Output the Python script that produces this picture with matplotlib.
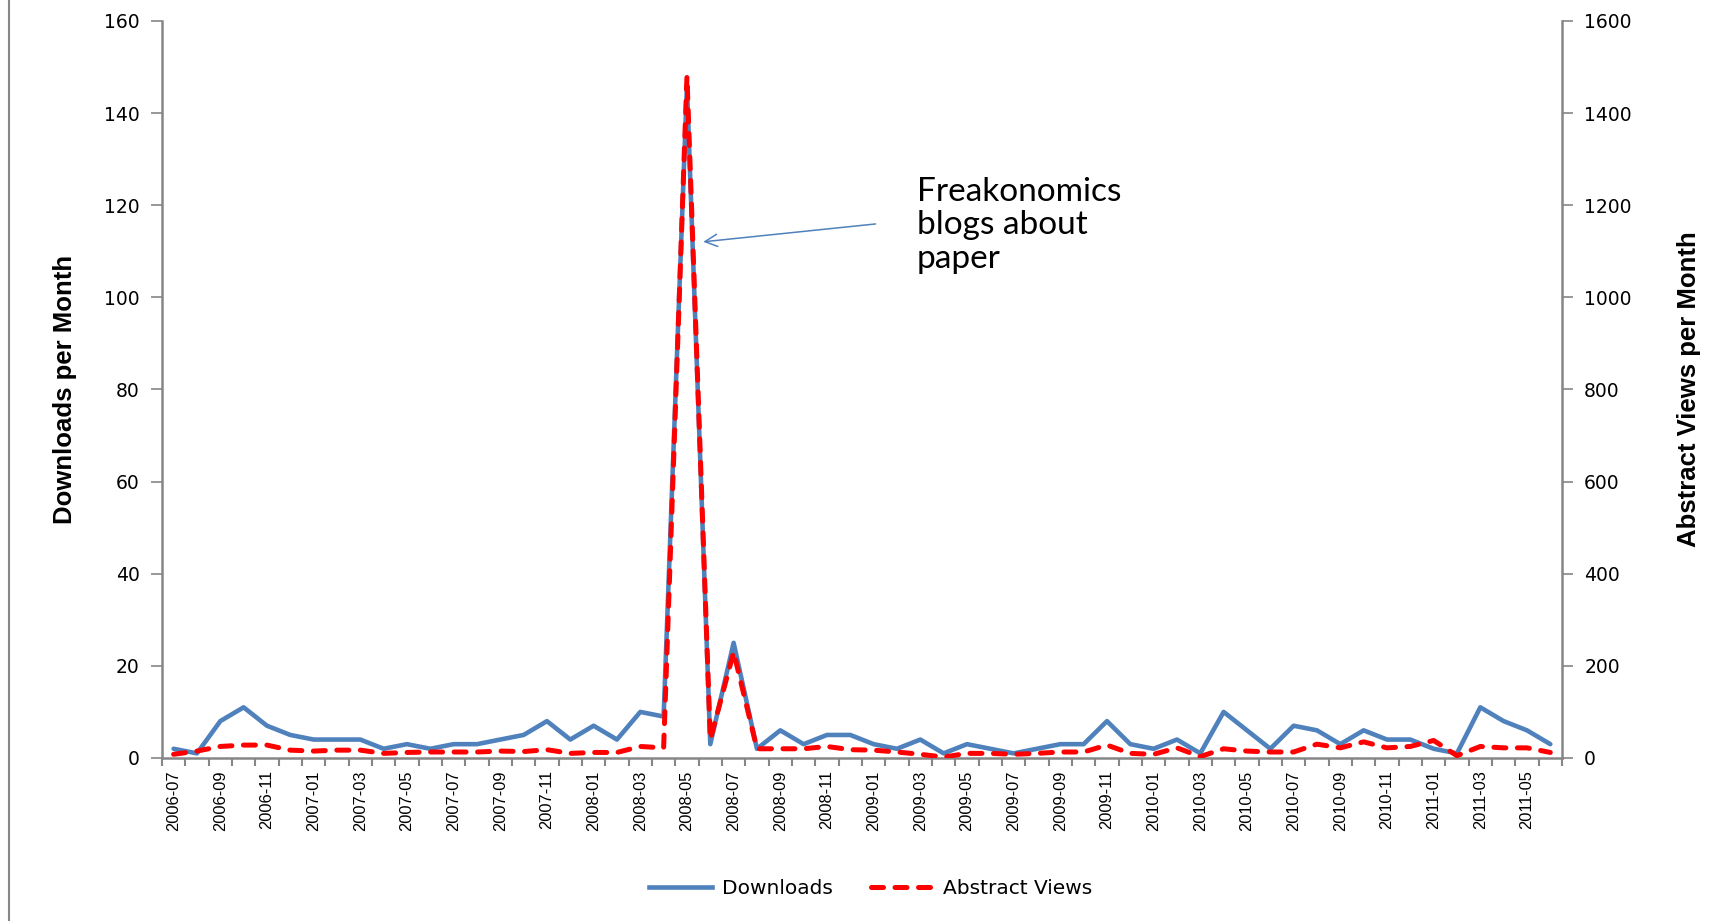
"""
Downloads and abstract views per month, with the Freakonomics spike
"""

import matplotlib.pyplot as plt
from matplotlib.lines import Line2D
import numpy as np

# Data
months = ['2006-07', '2006-08', '2006-09', '2006-10', '2006-11', '2006-12',
          '2007-01', '2007-02', '2007-03', '2007-04', '2007-05', '2007-06',
          '2007-07', '2007-08', '2007-09', '2007-10', '2007-11', '2007-12',
          '2008-01', '2008-02', '2008-03', '2008-04', '2008-05', '2008-06',
          '2008-07', '2008-08', '2008-09', '2008-10', '2008-11', '2008-12',
          '2009-01', '2009-02', '2009-03', '2009-04', '2009-05', '2009-06',
          '2009-07', '2009-08', '2009-09', '2009-10', '2009-11', '2009-12',
          '2010-01', '2010-02', '2010-03', '2010-04', '2010-05', '2010-06',
          '2010-07', '2010-08', '2010-09', '2010-10', '2010-11', '2010-12',
          '2011-01', '2011-02', '2011-03', '2011-04', '2011-05', '2011-06']

downloads = [2, 1, 8, 11, 7, 5, 4, 4, 4, 2, 3, 2,
             3, 3, 4, 5, 8, 4, 7, 4, 10, 9, 146, 3,
             25, 2, 6, 3, 5, 5, 3, 2, 4, 1, 3, 2,
             1, 2, 3, 3, 8, 3, 2, 4, 1, 10, 6, 2,
             7, 6, 3, 6, 4, 4, 2, 1, 11, 8, 6, 3]

abstract_views = [8, 15, 25, 28, 28, 17, 15, 17, 17, 10, 12, 13,
                  13, 13, 15, 14, 18, 10, 12, 12, 25, 22, 1480, 40,
                  230, 20, 20, 20, 25, 18, 17, 13, 8, 2, 10, 10,
                  8, 10, 13, 13, 28, 10, 8, 22, 3, 20, 15, 13,
                  13, 30, 22, 35, 22, 25, 38, 5, 25, 22, 22, 12]

left_ticks = [0, 20, 40, 60, 80, 100, 120, 140, 160]
right_ticks = [0, 200, 400, 600, 800, 1000, 1200, 1400, 1600]

note_text = 'Freakonomics\nblogs about\npaper'

BLUE = '#4F81BD'
RED = '#FF0000'
GRAY = '#868686'

fig = plt.figure(figsize=(17.21, 9.21), dpi=100)
ax = fig.add_axes([0.0941, 0.177, 0.8135, 0.8002])
ax2 = ax.twinx()

x = np.arange(len(months))

ax.plot(x, downloads, color=BLUE, linewidth=3.3, solid_joinstyle='round',
        solid_capstyle='round', zorder=2)
ax2.plot(x, abstract_views, color=RED, linewidth=3.6, dashes=(2.4, 2.3),
         dash_capstyle='round', dash_joinstyle='round', zorder=3)

ax.set_xlim(-0.5, len(months) - 0.5)
ax.set_ylim(0, 160)
ax2.set_ylim(0, 1600)

# category ticks: marks at boundaries, labels every second month
ax.set_xticks(x[::2])
ax.set_xticklabels(months[::2], rotation=90, fontsize=11.8,
                   family='Liberation Sans')
ax.set_xticks(np.arange(-0.5, len(months)), minor=True)
ax.tick_params(axis='x', which='major', length=0, pad=9)
ax.tick_params(axis='x', which='minor', length=6, width=1.5, color=GRAY)

ax.set_yticks(left_ticks)
ax.tick_params(axis='y', length=8, width=1.2, color=GRAY, labelsize=13.5,
               pad=8)
ax2.set_yticks(right_ticks)
ax2.tick_params(axis='y', length=8, width=1.2, color=GRAY, labelsize=13.5,
                pad=8)

for a in (ax, ax2):
    for side in ('top', 'right', 'left', 'bottom'):
        a.spines[side].set_visible(False)
ax.spines['left'].set_visible(True)
ax.spines['bottom'].set_visible(True)
ax2.spines['right'].set_visible(True)
for s in (ax.spines['left'], ax.spines['bottom'], ax2.spines['right']):
    s.set_color(GRAY)
    s.set_linewidth(1.8)

ax.set_ylabel('Downloads per Month', fontsize=18.5, fontweight='bold',
              family='Liberation Sans')
ax.yaxis.set_label_coords(-0.061, 0.5)
ax2.set_ylabel('Abstract Views per Month', fontsize=18.5, fontweight='bold',
               family='Liberation Sans', rotation=90)
ax2.yaxis.set_label_coords(1.082, 0.5)

# annotation for the spike
peak = int(np.argmax(downloads))
ax.annotate('', xy=(peak + 0.58, 112), xytext=(peak + 8.2, 116),
            arrowprops=dict(arrowstyle='->', color=BLUE, lw=1.1,
                            mutation_scale=22), zorder=5)
ax.text(peak + 9.85, 126.2, note_text, fontsize=24, family='Lato',
        va='top', ha='left', linespacing=1.15)

# legend at the bottom
handles = [Line2D([], [], color=BLUE, linewidth=3.3),
           Line2D([], [], color=RED, linewidth=3.6, dashes=(2.4, 2.3),
                  dash_capstyle='round')]
fig.legend(handles, ['Downloads', 'Abstract Views'], loc='center',
           bbox_to_anchor=(0.506, 0.035), ncol=2, frameon=False,
           fontsize=14.5, handlelength=3.1, columnspacing=1.9,
           handletextpad=0.5)

# chart frame edge on the left
fig.add_artist(Line2D([0.0055, 0.0055], [0, 1], color=GRAY, linewidth=1.5,
                      transform=fig.transFigure))

fig.savefig('out.png', dpi=100)
plt.close(fig)
